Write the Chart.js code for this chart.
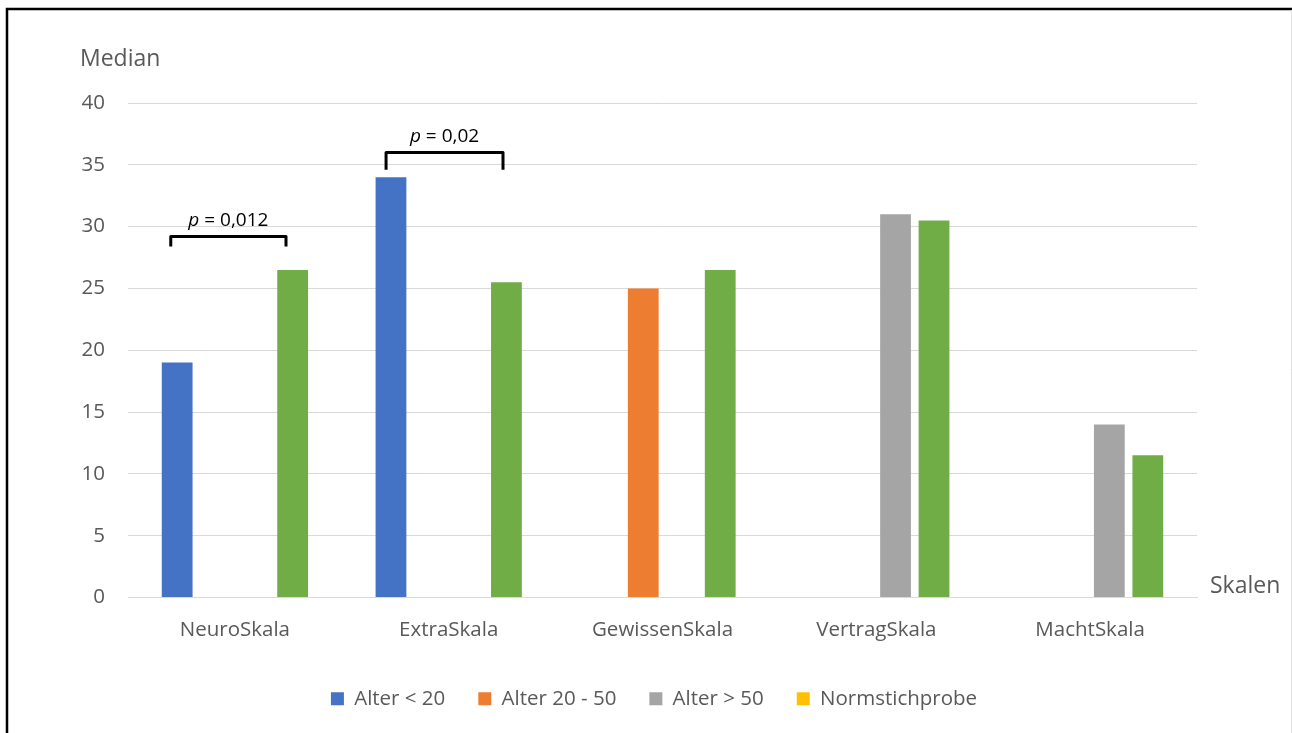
<!DOCTYPE html>
<html>
<head>
<meta charset="utf-8">
<script src="https://cdn.jsdelivr.net/npm/chart.js@4/dist/chart.umd.min.js"></script>
<style>
  html, body { margin: 0; padding: 0; background: #fff; }
  #wrap { width: 1292px; height: 733px; position: relative; }
</style>
</head>
<body>
<div id="wrap"><canvas id="c" width="1292" height="733"></canvas></div>
<script>
const categories = ["NeuroSkala", "ExtraSkala", "GewissenSkala", "VertragSkala", "MachtSkala"];
const seriesNames = ["Alter < 20", "Alter 20 - 50", "Alter > 50", "Normstichprobe"];
const alterUnter20 = [19, 34, null, null, null];
const alter20bis50 = [null, null, 25, null, null];
const alterUeber50 = [null, null, null, 31, 14];
const normstichprobe = [26.5, 25.5, 26.5, 30.5, 11.5];
const barColors = ["#4472C4", "#ED7D31", "#A5A5A5", "#70AD47"];
const legendColors = ["#4472C4", "#ED7D31", "#A5A5A5", "#FFC000"];
const yTicks = [0, 5, 10, 15, 20, 25, 30, 35, 40];
// significance brackets: left / right (category units), top / bottom (value units)
const bracketLabels = ["0,012", "0,02"];
const bracketLeft = [-0.3, 0.707];
const bracketRight = [0.239, 1.254];
const bracketTop = [29.2, 36.0];
const bracketBottom = [28.4, 34.6];

const FONT = "'Open Sans', sans-serif";
const TXT = "#595959";

const overlay = {
  id: 'overlay',
  beforeDraw(chart) {
    // centre the legend on the whole picture, as in the reference
    if (chart.legend) { chart.legend.left = 111; chart.legend.right = 1197; chart.legend.width = 1086; }
  },
  afterDraw(chart) {
    const ctx = chart.ctx;
    const xs = chart.scales.x, ys = chart.scales.y;
    ctx.save();
    // frame
    ctx.strokeStyle = "#000";
    ctx.lineWidth = 2.5;
    ctx.beginPath();
    ctx.moveTo(7, 733); ctx.lineTo(7, 9); ctx.lineTo(1292, 9);
    ctx.stroke();
    ctx.strokeStyle = "#E0E0E0";
    ctx.lineWidth = 1;
    ctx.beginPath();
    ctx.moveTo(1291.5, 10); ctx.lineTo(1291.5, 733);
    ctx.stroke();
    // axis titles
    ctx.fillStyle = TXT;
    ctx.font = "23px " + FONT;
    ctx.textBaseline = "middle";
    ctx.textAlign = "left";
    ctx.fillText("Median", 80, 59);
    ctx.fillText("Skalen", 1210, 586);
    // brackets
    ctx.strokeStyle = "#000";
    ctx.lineWidth = 3;
    ctx.lineJoin = "round";
    for (let i = 0; i < bracketLabels.length; i++) {
      const l = xs.getPixelForValue(bracketLeft[i]);
      const r = xs.getPixelForValue(bracketRight[i]);
      const t = ys.getPixelForValue(bracketTop[i]);
      const b = ys.getPixelForValue(bracketBottom[i]);
      ctx.beginPath();
      ctx.moveTo(l, b); ctx.lineTo(l, t); ctx.lineTo(r, t); ctx.lineTo(r, b);
      ctx.stroke();
      const cx = (l + r) / 2;
      const cy = t - 16;
      ctx.fillStyle = "#000";
      ctx.font = "italic 19px " + FONT;
      const wp = ctx.measureText("p").width;
      ctx.font = "19px " + FONT;
      const rest = " = " + bracketLabels[i];
      const wr = ctx.measureText(rest).width;
      const sx = cx - (wp + wr) / 2;
      ctx.textAlign = "left";
      ctx.textBaseline = "middle";
      ctx.font = "italic 19px " + FONT;
      ctx.fillText("p", sx, cy);
      ctx.font = "19px " + FONT;
      ctx.fillText(rest, sx + wp, cy);
    }
    ctx.restore();
  }
};

const allData = [alterUnter20, alter20bis50, alterUeber50, normstichprobe];
new Chart(document.getElementById('c'), {
  type: 'bar',
  data: {
    labels: categories,
    datasets: seriesNames.map((n, i) => ({
      label: n,
      data: allData[i],
      backgroundColor: barColors[i],
      borderWidth: 0,
      categoryPercentage: 0.72,
      barPercentage: 0.8
    }))
  },
  options: {
    responsive: false,
    animation: false,
    devicePixelRatio: 1,
    layout: { padding: { top: 103, right: 95, left: 0, bottom: 14 } },
    plugins: {
      tooltip: { enabled: false },
      legend: {
        position: 'bottom',
        labels: {
          font: { family: FONT, size: 20.5 },
          color: TXT,
          boxWidth: 13,
          boxHeight: 13,
          padding: 33,
          generateLabels(chart) {
            return chart.data.datasets.map((d, i) => ({
              text: d.label,
              fillStyle: legendColors[i],
              strokeStyle: legendColors[i],
              lineWidth: 0,
              hidden: false,
              datasetIndex: i,
              fontColor: TXT
            }));
          }
        }
      }
    },
    scales: {
      x: {
        grid: { display: false, drawTicks: false },
        border: { display: true, color: "#D9D9D9", width: 1 },
        ticks: { font: { family: FONT, size: 20.5 }, color: TXT, padding: 20 },
        afterFit(s) { s.height = 58; }
      },
      y: {
        min: 0, max: 40,
        afterBuildTicks(s) { s.ticks = yTicks.map(v => ({ value: v })); },
        grid: { color: "#D9D9D9", drawTicks: false },
        border: { display: false },
        ticks: { font: { family: FONT, size: 20.5 }, color: TXT, padding: 23 },
        afterFit(s) { s.width = 128; }
      }
    }
  },
  plugins: [overlay]
});
</script>
</body>
</html>
